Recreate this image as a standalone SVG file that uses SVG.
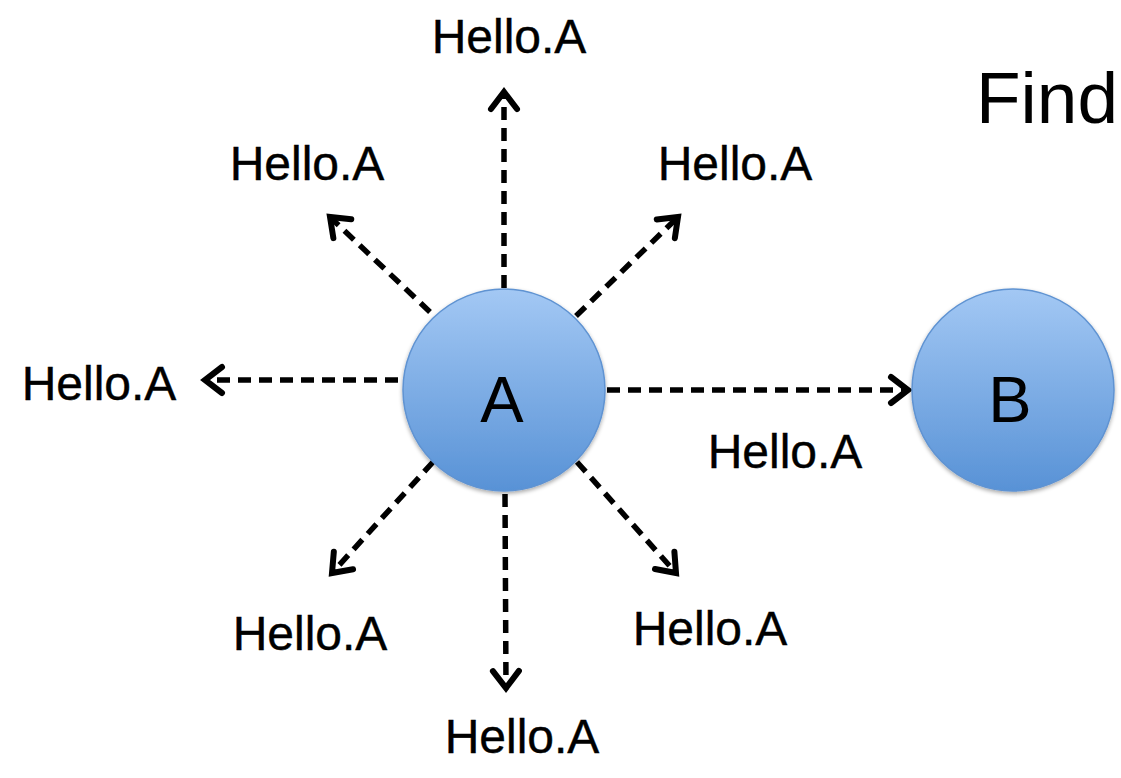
<svg xmlns="http://www.w3.org/2000/svg" width="1121" height="778" viewBox="0 0 1121 778">
<defs>
<linearGradient id="nodeFill" x1="0" y1="0" x2="0" y2="1">
<stop offset="0" stop-color="#a3c8f4"/>
<stop offset="1" stop-color="#5892d6"/>
</linearGradient>
<filter id="shadow" x="-20%" y="-20%" width="140%" height="140%">
<feGaussianBlur in="SourceAlpha" stdDeviation="2"/>
<feOffset dx="0" dy="2" result="b"/>
<feComponentTransfer><feFuncA type="linear" slope="0.35"/></feComponentTransfer>
<feMerge><feMergeNode/><feMergeNode in="SourceGraphic"/></feMerge>
</filter>
<marker id="arrow" markerUnits="userSpaceOnUse" markerWidth="44" markerHeight="44" viewBox="-26 -22 32 44" refX="0" refY="0" orient="auto">
<path d="M -17 -13 L 0 0 L -17 13" fill="none" stroke="#000" stroke-width="6" stroke-linecap="round" stroke-linejoin="miter"/>
</marker>
</defs>
<style>
.node { fill: url(#nodeFill); stroke: #5f93d2; stroke-width: 1.5; filter: url(#shadow); }
.nlabel { font-family: "Liberation Sans", Arial, sans-serif; font-size: 65px; fill: #000; text-anchor: middle; }
.msg { font-family: "Liberation Sans", Arial, sans-serif; font-size: 48px; fill: #000; text-anchor: middle; stroke: #000; stroke-width: 0.4; }
.title { font-family: "Liberation Sans", Arial, sans-serif; font-size: 73px; fill: #000; }
.conn { stroke: #000; stroke-width: 5.5; stroke-dasharray: 13 8; fill: none; marker-end: url(#arrow); }
</style>
<g id="connectors">
<line class="conn" x1="504" y1="288" x2="504" y2="92"/>
<line class="conn" x1="505" y1="494" x2="506" y2="688"/>
<line class="conn" x1="398" y1="380" x2="205" y2="380"/>
<line class="conn" x1="607" y1="390" x2="908" y2="390"/>
<line class="conn" x1="430" y1="312" x2="330" y2="217"/>
<line class="conn" x1="576" y1="316" x2="678" y2="217"/>
<line class="conn" x1="433" y1="462" x2="332" y2="573"/>
<line class="conn" x1="577" y1="462" x2="676" y2="573"/>
</g>
<g id="node-A">
<circle class="node" cx="504" cy="390" r="101"/>
<text class="nlabel" x="502" y="422">A</text>
</g>
<g id="node-B">
<circle class="node" cx="1013" cy="390" r="101"/>
<text class="nlabel" x="1010" y="422">B</text>
</g>
<g id="labels">
<text class="msg" x="509" y="53">Hello.A</text>
<text class="msg" x="307" y="180">Hello.A</text>
<text class="msg" x="735" y="180">Hello.A</text>
<text class="msg" x="99" y="400">Hello.A</text>
<text class="msg" x="785" y="468">Hello.A</text>
<text class="msg" x="310" y="650">Hello.A</text>
<text class="msg" x="710" y="645">Hello.A</text>
<text class="msg" x="522" y="753">Hello.A</text>
</g>
<g id="title">
<text class="title" x="976" y="123">Find</text>
</g>
</svg>
